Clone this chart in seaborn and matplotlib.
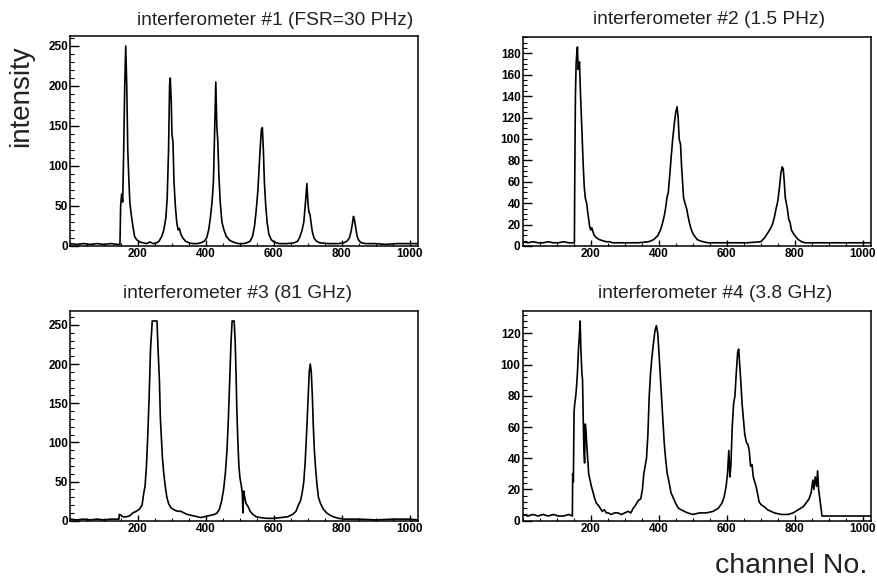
import numpy as np
import pandas as pd
import matplotlib
matplotlib.use("Agg")
import matplotlib.pyplot as plt
from matplotlib.ticker import MultipleLocator
import seaborn as sns

# ---------------- data ----------------
titles = ["interferometer #1 (FSR=30 PHz)", "interferometer #2 (1.5 PHz)",
          "interferometer #3 (81 GHz)", "interferometer #4 (3.8 GHz)"]

ch1 = [0, 20, 40, 60, 80, 100, 120, 140, 147, 149, 152, 155, 158, 161, 164, 167, 170, 173, 176, 180,
       185, 190, 196, 205, 215, 225, 235, 245, 255, 262, 270, 276, 282, 286, 290, 293, 295, 298, 300, 303,
       306, 310, 314, 318, 322, 326, 332, 340, 350, 360, 375, 385, 395, 402, 408, 413, 418, 422, 426, 429,
       432, 435, 438, 442, 447, 453, 460, 470, 480, 495, 510, 520, 530, 537, 543, 548, 553, 558, 563, 566,
       569, 572, 576, 580, 585, 592, 600, 615, 640, 660, 670, 677, 683, 688, 692, 694, 697, 700, 703, 706,
       709, 713, 718, 725, 735, 760, 790, 805, 815, 822, 827, 831, 834, 837, 841, 845, 850, 857, 870, 900,
       930, 960, 990, 1024]
int1 = [3, 2, 3, 2, 3, 2, 3, 2, 2, 50, 65, 55, 120, 200, 250, 200, 120, 85, 55, 40,
        25, 12, 8, 5, 4, 3, 5, 3, 4, 6, 12, 20, 35, 60, 120, 200, 210, 180, 140, 130,
        80, 50, 30, 20, 22, 15, 10, 6, 4, 3, 3, 4, 6, 10, 20, 35, 55, 80, 150, 205,
        150, 130, 90, 55, 30, 20, 12, 7, 5, 3, 3, 4, 6, 12, 25, 45, 70, 110, 145, 148,
        120, 80, 50, 30, 15, 8, 5, 3, 3, 4, 6, 12, 20, 30, 50, 60, 78, 55, 42, 40,
        30, 18, 10, 6, 4, 3, 3, 4, 6, 10, 18, 28, 37, 33, 22, 12, 7, 4, 3, 3,
        2, 3, 3, 3]

ch2 = [0, 15, 30, 45, 60, 75, 90, 105, 120, 135, 150, 152, 153, 155, 157, 159, 161, 163, 165, 167,
       169, 172, 175, 178, 181, 184, 188, 191, 194, 197, 200, 203, 206, 210, 216, 225, 235, 245, 255, 265,
       300, 340, 370, 378, 385, 392, 398, 405, 410, 416, 420, 424, 428, 432, 437, 441, 446, 450, 454, 457,
       460, 464, 467, 470, 473, 477, 482, 486, 490, 495, 500, 506, 513, 520, 530, 545, 600, 660, 700, 712,
       720, 728, 734, 740, 745, 750, 755, 759, 763, 766, 769, 772, 775, 778, 782, 786, 790, 795, 802, 810,
       820, 830, 1024]
int2 = [4, 3, 4, 3, 3, 4, 3, 3, 4, 3, 3, 3, 60, 140, 170, 180, 186, 165, 168, 172,
        150, 125, 100, 75, 55, 45, 40, 32, 25, 18, 15, 17, 14, 10, 8, 6, 5, 4, 4, 3,
        3, 3, 4, 5, 6, 8, 10, 15, 20, 28, 35, 45, 50, 65, 85, 100, 115, 125, 130, 120,
        100, 95, 75, 60, 45, 40, 35, 28, 22, 16, 12, 9, 6, 5, 4, 3, 3, 3, 4, 8,
        12, 16, 20, 27, 35, 42, 55, 68, 74, 72, 60, 45, 40, 35, 25, 22, 15, 12, 9, 6,
        4, 3, 3]

ch3 = [0, 20, 40, 60, 80, 100, 120, 144, 145, 150, 155, 165, 175, 185, 195, 205, 212, 217, 221, 225,
       229, 233, 237, 240, 242, 256, 259, 263, 266, 269, 272, 276, 280, 285, 290, 296, 302, 310, 318, 326,
       335, 345, 355, 365, 375, 385, 395, 405, 415, 425, 433, 440, 446, 452, 457, 462, 466, 470, 474, 477,
       483, 486, 489, 491, 494, 497, 500, 504, 507, 509, 511, 514, 518, 524, 530, 538, 548, 560, 580, 600,
       620, 640, 655, 665, 672, 678, 683, 688, 692, 696, 700, 704, 707, 710, 713, 716, 719, 723, 727, 731,
       737, 745, 755, 765, 775, 790, 810, 850, 900, 950, 1000, 1024]
int3 = [2, 1, 2, 1, 2, 1, 2, 2, 8, 7, 5, 5, 6, 10, 12, 15, 20, 35, 45, 70,
        110, 160, 220, 240, 255, 255, 220, 180, 130, 105, 80, 60, 45, 30, 22, 17, 15, 13, 12, 12,
        10, 8, 7, 6, 5, 4, 5, 6, 7, 8, 10, 15, 25, 40, 60, 90, 130, 180, 230, 255,
        255, 230, 180, 140, 100, 70, 55, 45, 35, 10, 38, 30, 22, 18, 12, 8, 5, 4, 3, 3,
        4, 5, 8, 12, 20, 25, 35, 50, 75, 110, 150, 190, 200, 190, 160, 120, 90, 65, 45, 30,
        22, 15, 10, 7, 5, 3, 2, 2, 1, 2, 2, 1]

ch4 = [0, 15, 30, 45, 60, 75, 90, 105, 120, 135, 146, 147, 149, 151, 153, 156, 158, 161, 164, 167,
       169, 171, 174, 176, 178, 180, 182, 184, 186, 188, 191, 194, 198, 202, 207, 212, 217, 222, 228, 234,
       240, 246, 252, 260, 270, 280, 290, 300, 310, 318, 325, 332, 340, 347, 352, 356, 360, 364, 368, 372,
       376, 380, 385, 389, 393, 397, 400, 404, 408, 412, 416, 420, 425, 430, 436, 442, 450, 458, 466, 475,
       485, 500, 520, 540, 560, 575, 585, 592, 598, 602, 606, 609, 612, 616, 620, 624, 628, 632, 635, 638,
       641, 645, 649, 653, 658, 662, 666, 670, 674, 678, 682, 686, 690, 695, 702, 710, 720, 730, 740, 760,
       780, 795, 810, 825, 835, 842, 848, 853, 856, 860, 864, 867, 870, 873, 877, 880, 1024]
int4 = [4, 3, 4, 3, 4, 3, 4, 3, 3, 4, 3, 30, 25, 70, 75, 80, 85, 95, 110, 120,
        128, 110, 95, 90, 65, 45, 37, 62, 58, 50, 40, 30, 26, 22, 18, 14, 11, 10, 8, 6,
        7, 5, 5, 4, 5, 5, 4, 5, 6, 5, 8, 10, 13, 14, 20, 30, 35, 40, 55, 80,
        95, 105, 115, 122, 125, 120, 110, 95, 80, 65, 50, 40, 30, 25, 18, 15, 11, 8, 7, 6,
        5, 4, 5, 5, 6, 8, 11, 15, 22, 30, 45, 28, 35, 60, 75, 80, 95, 108, 110, 100,
        90, 75, 65, 55, 50, 49, 45, 35, 36, 28, 25, 22, 18, 12, 10, 9, 7, 6, 5, 4,
        4, 5, 7, 9, 12, 14, 18, 26, 20, 28, 22, 32, 20, 15, 8, 3, 3]

channels = [ch1, ch2, ch3, ch4]
intensities = [int1, int2, int3, int4]
ymax = [262.5, 195.3, 267.75, 134.4]
y_major = [50, 20, 50, 20]
y_minor = [10, 5, 10, 4]

# ---------------- style ----------------
sns.set_style("white")
plt.rcParams['font.family'] = ['Liberation Sans', 'DejaVu Sans']

W, H = 877, 583
fig = plt.figure(figsize=(W / 100, H / 100), dpi=100)

# panel frames in pixels: (left, top, right, bottom)
frames = [(70, 36, 418, 246), (522.7, 37, 871, 246),
          (70, 311, 418, 520.7), (522.7, 311, 871, 520.7)]
title_pos = [(275, 20.5), (709, 20), (237.5, 293.5), (715, 293.5)]

for i in range(4):
    l, t, r, b = frames[i]
    ax = fig.add_axes([l / W, 1 - b / H, (r - l) / W, (b - t) / H])
    df = pd.DataFrame({"channel": channels[i], "intensity": intensities[i]})
    sns.lineplot(data=df, x="channel", y="intensity", ax=ax, color="black",
                 linewidth=1.2, estimator=None, sort=False)
    ax.set_xlim(0, 1024)
    ax.set_ylim(0, ymax[i])
    ax.set_xlabel("")
    ax.set_ylabel("")
    ax.xaxis.set_major_locator(MultipleLocator(200))
    ax.xaxis.set_minor_locator(MultipleLocator(50))
    ax.yaxis.set_major_locator(MultipleLocator(y_major[i]))
    ax.yaxis.set_minor_locator(MultipleLocator(y_minor[i]))
    ax.set_xticks([200, 400, 600, 800, 1000])
    ax.tick_params(axis='both', which='both', direction='in', top=False, right=False,
                   left=True, bottom=True, colors='black', labelsize=8.5)
    ax.tick_params(axis='y', which='major', length=6.5, width=1.0, pad=1.5)
    ax.tick_params(axis='y', which='minor', length=3.2, width=0.8)
    ax.tick_params(axis='x', which='major', length=4, width=1.0, pad=1.5)
    ax.tick_params(axis='x', which='minor', length=2, width=0.8)
    for lab in ax.get_xticklabels() + ax.get_yticklabels():
        lab.set_fontweight('bold')
    for sp in ax.spines.values():
        sp.set_visible(True)
        sp.set_color('black')
        sp.set_linewidth(1.1)
    tx, ty = title_pos[i]
    fig.text(tx / W, 1 - ty / H, titles[i], ha='center', va='center',
             fontsize=13.8, color='#222222')

fig.text(21 / W, 1 - 96 / H, "intensity", rotation=90, ha='center', va='center',
         fontsize=20, color='#222222')
fig.text(791 / W, 1 - 566 / H, "channel No.", ha='center', va='center',
         fontsize=20.5, color='#222222')

fig.savefig("out.png", dpi=100)
